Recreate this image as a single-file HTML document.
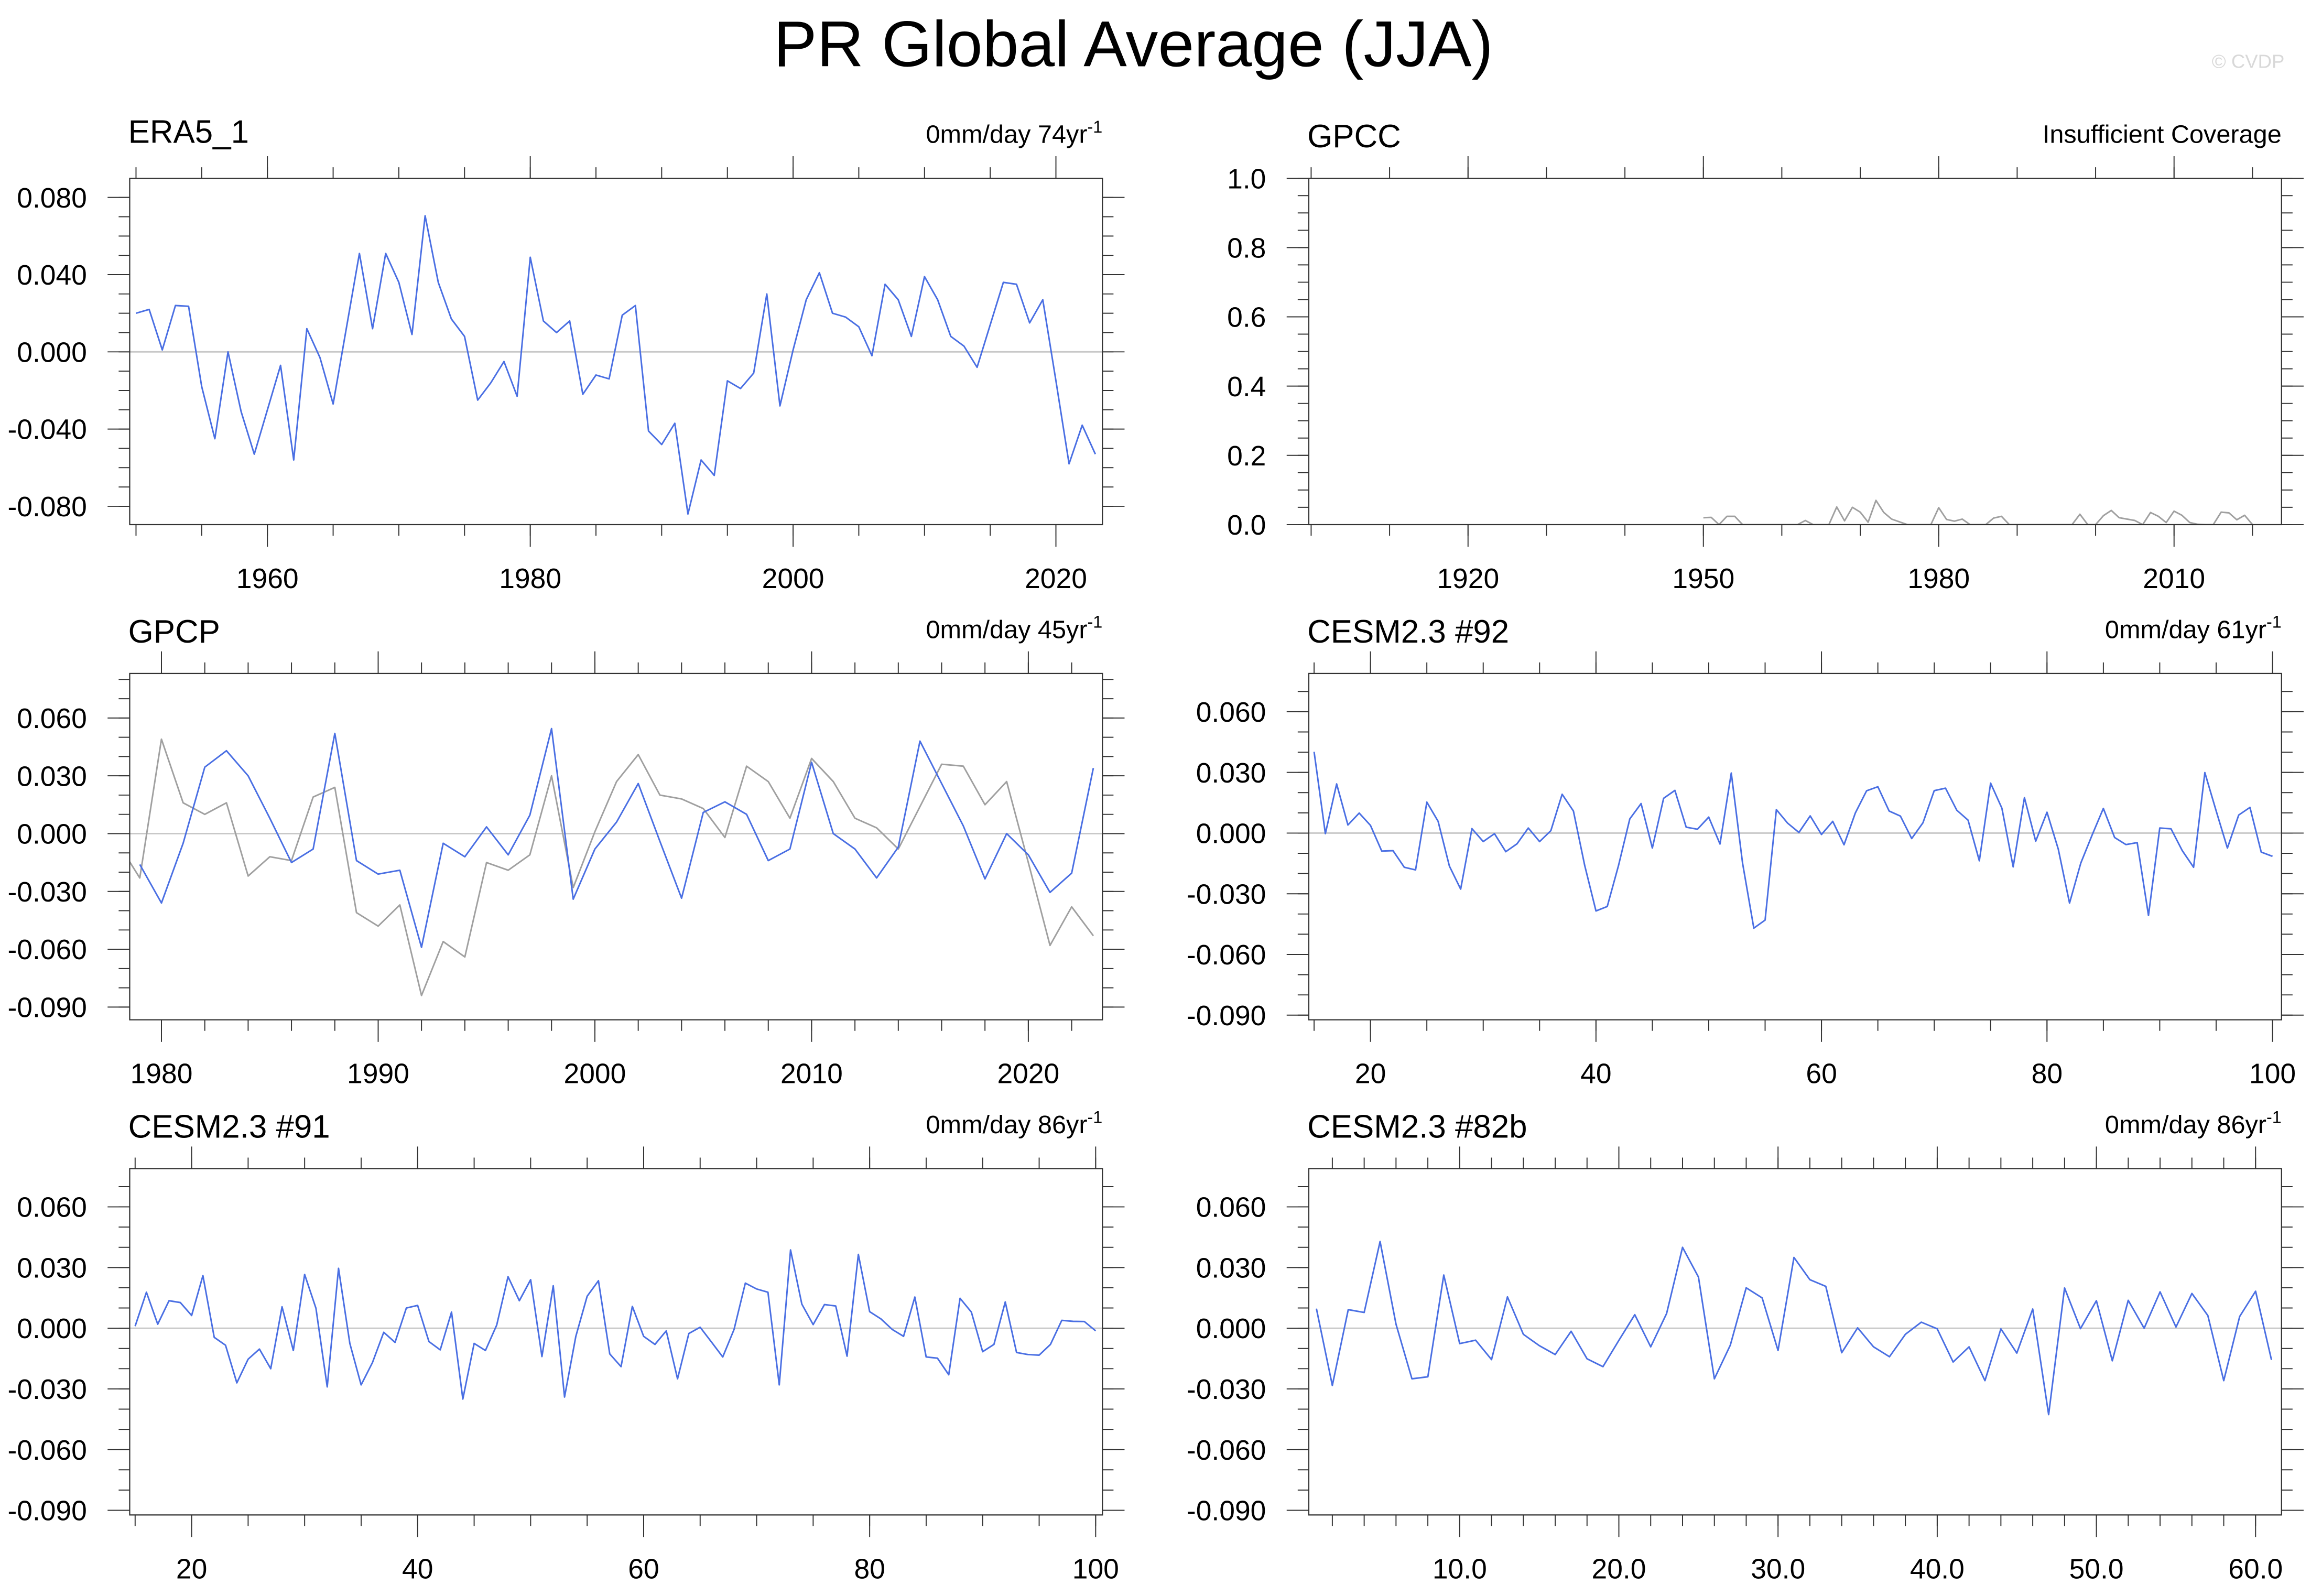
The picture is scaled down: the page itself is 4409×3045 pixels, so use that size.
<!DOCTYPE html>
<html><head><meta charset="utf-8"><title>PR Global Average (JJA)</title>
<style>
html,body{margin:0;padding:0;background:#fff;}
svg{display:block;font-family:"Liberation Sans",Arial,sans-serif;}
</style></head>
<body>
<svg id="chart" width="4409" height="3045" viewBox="0 0 1568 1083" preserveAspectRatio="none" xmlns="http://www.w3.org/2000/svg">
<rect x="0" y="0" width="1568" height="1083" fill="#fff"/>
<text x="769" y="45" font-size="44" text-anchor="middle" fill="#000">PR Global Average (JJA)</text>
<text x="1550" y="46" font-size="13" text-anchor="end" fill="#d8d8d8">© CVDP</text>
<g id="panels"></g>
</svg>
<script>
// ---------------- data ----------------
const era5Years = [1950, 2023];
const era5Values = [0.020,0.022,0.001,0.024,0.0236,-0.018,-0.045,0.000,-0.031,-0.053,-0.030,-0.007,-0.056,0.012,-0.003,-0.027,0.012,0.051,0.012,0.051,0.036,0.009,0.0705,0.036,0.017,0.008,-0.025,-0.016,-0.005,-0.023,0.049,0.016,0.010,0.016,-0.022,-0.012,-0.014,0.019,0.024,-0.041,-0.048,-0.037,-0.084,-0.056,-0.064,-0.015,-0.019,-0.011,0.030,-0.028,0.001,0.027,0.041,0.020,0.018,0.013,-0.002,0.035,0.027,0.008,0.039,0.027,0.008,0.003,-0.008,0.014,0.036,0.035,0.015,0.027,-0.015,-0.058,-0.038,-0.053];

const gpccYears = [1950, 2020];
const gpccValues = [0.020,0.021,0,0.024,0.024,0,0,0,0,0,0,0,0,0.012,0,0,0,0.051,0.011,0.050,0.036,0.007,0.070,0.035,0.016,0.008,0,0,0,0,0.049,0.015,0.010,0.016,0,0,0,0.019,0.024,0,0,0,0,0,0,0,0,0,0.030,0,0,0.026,0.041,0.020,0.016,0.012,0,0.035,0.024,0.006,0.039,0.027,0.006,0.001,0,0,0.036,0.034,0.014,0.027,0];

const gpcpYears = [1979, 2023];
const gpcpValues = [-0.016,-0.036,-0.005,0.0345,0.043,0.030,0.008,-0.015,-0.008,0.052,-0.014,-0.021,-0.019,-0.059,-0.005,-0.012,0.0035,-0.011,0.0096,0.0545,-0.034,-0.008,0.006,0.026,-0.004,-0.0335,0.011,0.0165,0.010,-0.014,-0.008,0.037,0.000,-0.008,-0.023,-0.007,0.048,0.026,0.004,-0.0235,0.000,-0.011,-0.0305,-0.0205,0.034];

const c92Years = [15, 100];
const c92Values = [0.0402,-0.0003,0.0243,0.004,0.0099,0.0038,-0.0089,-0.0087,-0.0169,-0.0182,0.0153,0.0058,-0.0163,-0.0277,0.0022,-0.0042,-0.0003,-0.0092,-0.0053,0.0025,-0.0042,0.0012,0.0192,0.0109,-0.016,-0.0385,-0.0363,-0.016,0.007,0.0146,-0.0074,0.0172,0.0211,0.0029,0.0019,0.0079,-0.0054,0.0297,-0.0148,-0.047,-0.043,0.0116,0.0049,0.0003,0.0085,-0.0007,0.0058,-0.0058,0.0099,0.0209,0.0229,0.0109,0.0084,-0.0027,0.0051,0.021,0.0222,0.0113,0.0064,-0.0137,0.0247,0.0123,-0.0167,0.0175,-0.004,0.0103,-0.0079,-0.0346,-0.0148,-0.001,0.0122,-0.0022,-0.0057,-0.0047,-0.0407,0.0025,0.0021,-0.0087,-0.0169,0.0299,0.011,-0.0074,0.0089,0.0127,-0.0094,-0.0115];

const c91Years = [15, 100];
const c91Values = [0.001,0.0178,0.002,0.0136,0.0127,0.0063,0.026,-0.0045,-0.0084,-0.027,-0.0153,-0.0103,-0.020,0.0106,-0.011,0.0266,0.0099,-0.029,0.0296,-0.0075,-0.028,-0.017,-0.002,-0.007,0.010,0.0113,-0.0066,-0.0107,0.008,-0.035,-0.0075,-0.011,0.0016,0.0255,0.0136,0.024,-0.014,0.021,-0.034,-0.004,0.0158,0.0235,-0.0127,-0.019,0.0108,-0.004,-0.008,-0.0013,-0.025,-0.0026,0.0005,-0.0068,-0.0142,-0.0006,0.0223,0.0194,0.0178,-0.028,0.0387,0.0119,0.0018,0.0117,0.011,-0.0138,0.0365,0.0082,0.0046,-0.0006,-0.004,0.0154,-0.0142,-0.0148,-0.023,0.0148,0.008,-0.0116,-0.008,0.013,-0.012,-0.013,-0.0133,-0.008,0.0039,0.0034,0.0033,-0.0013];

const c82Years = [1, 61];
const c82Values = [0.0097,-0.0283,0.0092,0.0078,0.0429,0.002,-0.025,-0.024,0.0263,-0.0076,-0.0059,-0.0155,0.0155,-0.003,-0.0086,-0.013,-0.0015,-0.0151,-0.019,-0.006,0.0067,-0.0092,0.0073,0.040,0.0253,-0.025,-0.0084,0.020,0.015,-0.011,0.035,0.024,0.0207,-0.0121,0.0002,-0.0092,-0.0141,-0.003,0.003,-0.0003,-0.0167,-0.0092,-0.0259,-0.0003,-0.0123,0.0095,-0.0427,0.0199,-0.0002,0.0136,-0.0161,0.0138,0.000,0.018,0.0006,0.0172,0.0063,-0.0259,0.0058,0.0183,-0.0157];

const cesmYTickLabels = ["0.060","0.030","0.000","-0.030","-0.060","-0.090"];
const era5YTickLabels = ["0.080","0.040","0.000","-0.040","-0.080"];
const gpccYTickLabels = ["1.0","0.8","0.6","0.4","0.2","0.0"];
const era5XTickLabels = ["1960","1980","2000","2020"];
const gpccXTickLabels = ["1920","1950","1980","2010"];
const gpcpXTickLabels = ["1980","1990","2000","2010","2020"];
const cesmXTickLabels = ["20","40","60","80","100"];
const c82XTickLabels = ["10.0","20.0","30.0","40.0","50.0","60.0"];

const BLUE = "#4a6fe3";
const GRAY = "#a0a0a0";
const NS = "http://www.w3.org/2000/svg";
const root = document.getElementById("panels");

function mk(tag, attrs, parent) {
  const e = document.createElementNS(NS, tag);
  for (const k in attrs) e.setAttribute(k, attrs[k]);
  parent.appendChild(e);
  return e;
}

function drawPanel(p) {
  const g = mk("g", {}, root);
  
  
  const L = p.x, T = p.y, W = 660, H = 235, R = L + W, B = T + H;
  const sx = v => L + (v - p.xr[0]) / (p.xr[1] - p.xr[0]) * W;
  const sy = v => B - (v - p.yr[0]) / (p.yr[1] - p.yr[0]) * H;

  const t = mk("text", {x: L - 1, y: T - 24 + (p.titleDy || 0), "font-size": 22, fill: "#000"}, g);
  t.textContent = p.title;
  
  
  const rl = mk("text", {x: R, y: T - 24, "font-size": 17.3, "text-anchor": "end", fill: "#000"}, g);
  
  
  if (p.sup) {
    rl.appendChild(document.createTextNode(p.right));
    const s = mk("tspan", {"font-size": 11.5, dy: -7}, rl);
    s.textContent = "-1";
  } else {
    rl.textContent = p.right;
  }

  if (p.zero) {
    const z = mk("line", {x1: L, x2: R, y1: sy(0), y2: sy(0), stroke: "#c8c8c8", "stroke-width": 1}, g);
    
    
  }

  const yt = mk("g", {stroke: "#333", "stroke-width": 0.7}, g);
  
  
  for (let v = p.yMinorStart; v <= p.yr[1] + 1e-9; v += p.yMinor) {
    if (v < p.yr[0] - 1e-9) continue;
    const y = sy(v);
    mk("line", {x1: L - 7.5, x2: L, y1: y, y2: y}, yt);
    mk("line", {x1: R, x2: R + 7.5, y1: y, y2: y}, yt);
  }
  p.yLabels.forEach((lab) => {
    const v = parseFloat(lab);
    const y = sy(v);
    mk("line", {x1: L - 15, x2: L, y1: y, y2: y}, yt);
    mk("line", {x1: R, x2: R + 15, y1: y, y2: y}, yt);
    const tx = mk("text", {x: L - 29, y: y + 6.8, "font-size": 19, "text-anchor": "end", fill: "#000", stroke: "none"}, g);
    tx.textContent = lab;
    
    
  });

  const xt = mk("g", {stroke: "#333", "stroke-width": 0.7}, g);
  
  
  const start = Math.ceil(p.xr[0] / p.xMinor) * p.xMinor;
  for (let v = start; v <= p.xr[1] + 1e-9; v += p.xMinor) {
    const x = sx(v);
    mk("line", {x1: x, x2: x, y1: B, y2: B + 7.5}, xt);
    mk("line", {x1: x, x2: x, y1: T - 7.5, y2: T}, xt);
  }
  p.xLabels.forEach((lab) => {
    const v = parseFloat(lab);
    const x = sx(v);
    mk("line", {x1: x, x2: x, y1: B, y2: B + 15}, xt);
    mk("line", {x1: x, x2: x, y1: T - 15, y2: T}, xt);
    const tx = mk("text", {x: x, y: B + 43, "font-size": 19, "text-anchor": "middle", fill: "#000", stroke: "none"}, g);
    tx.textContent = lab;
    
    
  });

  const cid = "clip-" + p.name;
  const cp = mk("clipPath", {id: cid}, g);
  mk("rect", {x: L, y: T, width: W, height: H}, cp);

  p.series.forEach((s) => {
    let d = "";
    s.values.forEach((v, i) => {
      const yr = s.start + i;
      if (yr < p.xr[0] - 1) return;
      d += (d ? "L" : "M") + sx(yr).toFixed(2) + "," + sy(v).toFixed(2);
    });
    const path = mk("path", {d: d, fill: "none", stroke: s.color, "stroke-width": 1.05, "stroke-linejoin": "round", "clip-path": "url(#" + cid + ")"}, g);
    
    
  });

  const fr = mk("rect", {x: L, y: T, width: W, height: H, fill: "none", stroke: "#333", "stroke-width": 0.8}, g);
  
  
}

const cesmY = [-0.0923, 0.0789];

drawPanel({name: "era5", title: "ERA5_1", right: "0mm/day 74yr", sup: true, x: 88, y: 121,
  xr: [1949.52, 2023.54], yr: [-0.0895, 0.0899], zero: true,
  yLabels: era5YTickLabels, yMinor: 0.01, yMinorStart: -0.08,
  xLabels: era5XTickLabels, xMinor: 5,
  series: [{values: era5Values, start: era5Years[0], color: BLUE, label: "era5"}]});

drawPanel({name: "gpcc", title: "GPCC", right: "Insufficient Coverage", sup: false, titleDy: 3, x: 888, y: 121,
  xr: [1899.7, 2023.7], yr: [0, 1], zero: false,
  yLabels: gpccYTickLabels, yMinor: 0.05, yMinorStart: 0,
  xLabels: gpccXTickLabels, xMinor: 10,
  series: [{values: gpccValues, start: gpccYears[0], color: GRAY, label: "gpcc"}]});

drawPanel({name: "gpcp", title: "GPCP", right: "0mm/day 45yr", sup: true, titleDy: 3, x: 88, y: 457,
  xr: [1978.535, 2023.42], yr: [-0.0966, 0.0831], zero: true,
  yLabels: cesmYTickLabels, yMinor: 0.01, yMinorStart: -0.09,
  xLabels: gpcpXTickLabels, xMinor: 2,
  series: [{values: era5Values, start: era5Years[0], color: GRAY, label: "era5-reference"},
           {values: gpcpValues, start: gpcpYears[0], color: BLUE, label: "gpcp"}]});

drawPanel({name: "cesm92", title: "CESM2.3 #92", right: "0mm/day 61yr", sup: true, titleDy: 3, x: 888, y: 457,
  xr: [14.53, 100.8], yr: cesmY, zero: true,
  yLabels: cesmYTickLabels, yMinor: 0.01, yMinorStart: -0.09,
  xLabels: cesmXTickLabels, xMinor: 5,
  series: [{values: c92Values, start: c92Years[0], color: BLUE, label: "cesm92"}]});

drawPanel({name: "cesm91", title: "CESM2.3 #91", right: "0mm/day 86yr", sup: true, titleDy: 3, x: 88, y: 793,
  xr: [14.52, 100.6], yr: cesmY, zero: true,
  yLabels: cesmYTickLabels, yMinor: 0.01, yMinorStart: -0.09,
  xLabels: cesmXTickLabels, xMinor: 5,
  series: [{values: c91Values, start: c91Years[0], color: BLUE, label: "cesm91"}]});

drawPanel({name: "cesm82b", title: "CESM2.3 #82b", right: "0mm/day 86yr", sup: true, titleDy: 3, x: 888, y: 793,
  xr: [0.52, 61.63], yr: cesmY, zero: true,
  yLabels: cesmYTickLabels, yMinor: 0.01, yMinorStart: -0.09,
  xLabels: c82XTickLabels, xMinor: 2,
  series: [{values: c82Values, start: c82Years[0], color: BLUE, label: "cesm82b"}]});
</script>
</body></html>
